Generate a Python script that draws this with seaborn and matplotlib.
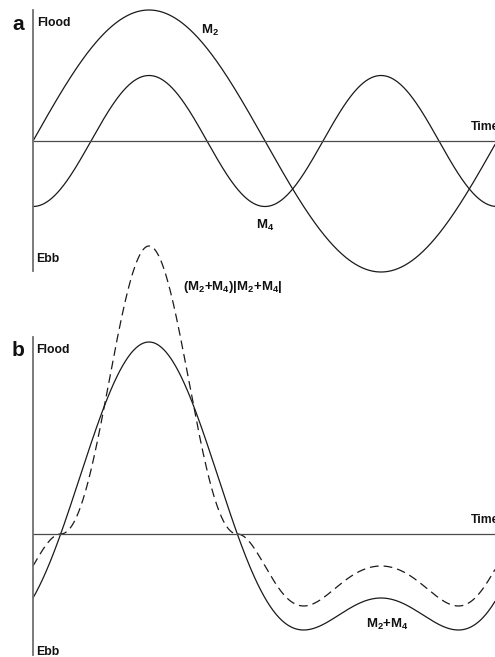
import numpy as np
import pandas as pd
import matplotlib
matplotlib.use("Agg")
import matplotlib.pyplot as plt
import seaborn as sns

# Tidal constituents (relative amplitudes, phase of M4 relative to M2)
m2_amplitude = 1.0
m4_amplitude = 0.5
m4_phase = -np.pi / 2          # M4 = A4 * sin(2*theta + phase)
phase_end = 2 * np.pi * 462 / 464   # fraction of one M2 cycle shown

labels_a = {"M2": r"$\mathbf{M_2}$", "M4": r"$\mathbf{M_4}$"}
labels_b = {"sum": r"$\mathbf{M_2{+}M_4}$",
            "stress": r"$\mathbf{(M_2{+}M_4)|M_2{+}M_4|}$"}

sns.set_style("white")
plt.rcParams["font.family"] = ["Liberation Sans", "DejaVu Sans"]
plt.rcParams["mathtext.fontset"] = "custom"
plt.rcParams["mathtext.rm"] = "Liberation Sans"
plt.rcParams["mathtext.bf"] = "Liberation Sans:bold"
plt.rcParams["mathtext.it"] = "Liberation Sans:italic"

theta = np.linspace(0, phase_end, 800)
m2 = m2_amplitude * np.sin(theta)
m4 = m4_amplitude * np.sin(2 * theta + m4_phase)
total = m2 + m4
stress = total * np.abs(total)
df = pd.DataFrame({"theta": theta, "M2": m2, "M4": m4,
                   "sum": total, "stress": stress})

W, H = 495, 657
fig = plt.figure(figsize=(W / 100, H / 100), dpi=100)


def frac(x, y):
    return x / W, 1 - y / H


def add_axes(top_px, bottom_px):
    left = 33 / W
    return fig.add_axes([left, 1 - bottom_px / H, 1 - left, (bottom_px - top_px) / H],
                        facecolor="none")


curve_kw = dict(color="#1a1a1a", linewidth=0.9)

# ---- panel a: individual constituents ----
ax_a = add_axes(0, 285)
sns.lineplot(data=df, x="theta", y="M2", ax=ax_a, **curve_kw)
sns.lineplot(data=df, x="theta", y="M4", ax=ax_a, **curve_kw)
ax_a.set_ylim(-(285 - 141) / 131, 141 / 131)
ax_a.spines["left"].set_bounds(-130 / 131, 1.0)

# ---- panel b: combined tide and its quadratic stress ----
ax_b = add_axes(225, 657)
sns.lineplot(data=df, x="theta", y="sum", ax=ax_b, **curve_kw)
sns.lineplot(data=df, x="theta", y="stress", ax=ax_b, color="#1a1a1a",
             linewidth=0.9, linestyle=(0, (7, 4)))
ax_b.set_ylim(-(657 - 534) / 128, (534 - 225) / 128)
ax_b.spines["left"].set_bounds(-121 / 128, (534 - 337) / 128)

for ax in (ax_a, ax_b):
    ax.set_xlim(0, phase_end)
    ax.axhline(0, color="#4a4a4a", linewidth=0.9)
    ax.set_xticks([])
    ax.set_yticks([])
    ax.set_xlabel("")
    ax.set_ylabel("")
    for side in ("top", "right", "bottom"):
        ax.spines[side].set_visible(False)
    ax.spines["left"].set_color("#707070")
    ax.spines["left"].set_linewidth(1.3)
    for line in ax.lines:
        line.set_clip_on(False)

bold = dict(fontweight="bold", color="#111111")
lab = dict(fontsize=8.8, va="center", ha="left", **bold)

fig.text(*frac(12, 24), "a", fontsize=15, va="center", ha="left", **bold)
fig.text(*frac(37, 23), "Flood", **lab)
fig.text(*frac(36, 259), "Ebb", **lab)
fig.text(*frac(471, 127), "Time", **lab)

fig.text(*frac(12, 350), "b", fontsize=15, va="center", ha="left", **bold)
fig.text(*frac(36, 350), "Flood", **lab)
fig.text(*frac(36, 652), "Ebb", **lab)
fig.text(*frac(471, 520), "Time", **lab)

mlab = dict(fontsize=9.5, va="center", ha="left", color="#111111")
fig.text(*frac(201, 30), labels_a["M2"], **mlab)
fig.text(*frac(256, 225), labels_a["M4"], **mlab)
fig.text(*frac(183, 287), labels_b["stress"], **mlab)
fig.text(*frac(366, 624), labels_b["sum"], **mlab)

fig.savefig("out.png", dpi=100)
